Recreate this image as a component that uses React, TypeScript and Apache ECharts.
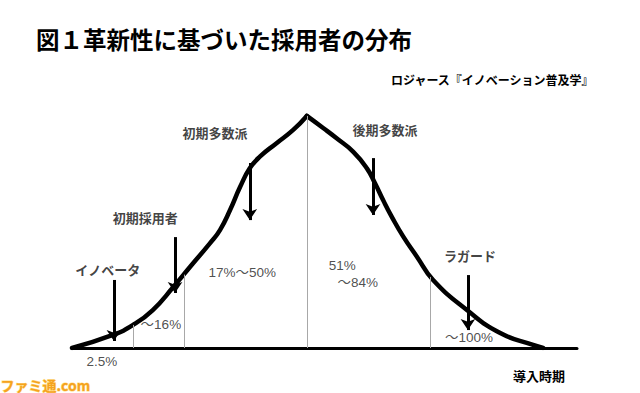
import React, { useEffect, useRef } from "react";
import * as echarts from "echarts";

// Bell curve of adopters (x: time of adoption, y: relative number of adopters)
// Rising side up to the peak
const riseX = [0, 8.1, 12.1, 16.0, 20.1, 23.4, 27.3, 29.3, 31.3, 33.3, 35.2, 37.2, 40.5, 43.8, 46.5];
const riseY = [0, 5.6, 9.9, 16.3, 26.3, 34.9, 44.9, 50.6, 59.2, 69.2, 77.1, 82.1, 87.9, 93.6, 99.6];
// Falling side from the peak
const fallX = [46.5, 49.8, 52.4, 55.7, 58.4, 60.0, 61.6, 63.3, 65.6, 68.3, 71.5, 78.2, 84.8, 91.3, 93.3];
const fallY = [99.6, 94.3, 90.0, 84.2, 77.1, 70.7, 63.5, 56.4, 47.8, 39.2, 29.2, 16.3, 6.4, 1.3, 0];

// Category boundaries (vertical grey lines)
const dividerX = [12.1, 22.2, 46.5, 71.0];
const dividerTop = [9.9, 31.5, 99.6, 30.5];

// Adopter categories with their arrows
const groupNames = ["イノベータ", "初期採用者", "初期多数派", "後期多数派", "ラガード"];
const arrowX = [8.3, 20.4, 35.2, 59.6, 78.4];
const arrowFrom = [29.2, 47.6, 79.4, 81.5, 31.3];
const arrowTo = [3.0, 23.6, 54.9, 57.1, 7.7];
const groupLabelX = [7.1, 14.5, 28.3, 62.0, 78.8];
const groupLabelY = [33.9, 56.2, 92.3, 93.6, 39.9];

// Cumulative share labels
const shareText = ["2.5%", "～16%", "17%～50%", "51%", "～84%", "～100%"];
const shareX = [5.9, 17.6, 33.7, 53.5, 56.6, 78.6];
const shareY = [-6.0, 9.9, 32.2, 35.6, 28.3, 4.3];

const titleText = "図１革新性に基づいた採用者の分布";
const sourceText = "ロジャース『イノベーション普及学』";
const axisText = "導入時期";
const watermarkText = "ファミ通.com";

const CJK = '"Noto Sans CJK JP", "Noto Sans", sans-serif';
const LATIN = '"Liberation Sans", Arial, "Noto Sans CJK JP", sans-serif';

export default function App() {
  const ref = useRef<HTMLDivElement>(null);

  useEffect(() => {
    if (!ref.current) return;
    const chart = echarts.init(ref.current, undefined, { renderer: "svg" });

    const riseData = riseX.map((x, i) => [x, riseY[i]]);
    const fallData = fallX.map((x, i) => [x, fallY[i]]);
    const dividerLines = dividerX.map((x, i) => [
      { coord: [x, 0] },
      { coord: [x, dividerTop[i]] },
    ]);
    const arrowLines = arrowX.map((x, i) => [
      { coord: [x, arrowFrom[i]] },
      { coord: [x, arrowTo[i]] },
    ]);
    const groupData = groupNames.map((n, i) => ({ name: n, value: [groupLabelX[i], groupLabelY[i]] }));
    const shareData = shareText.map((n, i) => ({ name: n, value: [shareX[i], shareY[i]] }));

    const curveStyle = { color: "#000", width: 4.5, cap: "round", join: "round" };

    chart.setOption({
      animation: false,
      backgroundColor: "#ffffff",
      grid: { left: 72, right: 63, top: 115, bottom: 45 },
      xAxis: {
        type: "value",
        min: 0,
        max: 100,
        axisLine: { show: true, lineStyle: { color: "#000", width: 3 } },
        axisTick: { show: false },
        axisLabel: { show: false },
        splitLine: { show: false },
      },
      yAxis: {
        type: "value",
        min: 0,
        max: 100,
        axisLine: { show: false },
        axisTick: { show: false },
        axisLabel: { show: false },
        splitLine: { show: false },
      },
      graphic: [
        {
          type: "text",
          left: 36,
          top: 27,
          style: { text: titleText, font: `bold 23.5px ${CJK}`, fill: "#000" },
        },
        {
          type: "text",
          right: 45,
          top: 73,
          style: { text: sourceText, font: `bold 12px ${CJK}`, fill: "#000" },
        },
        {
          type: "text",
          left: 513,
          top: 369,
          style: { text: axisText, font: `bold 13px ${CJK}`, fill: "#000" },
        },
        {
          type: "text",
          left: 0,
          top: 377,
          style: {
            text: watermarkText,
            font: `bold 14px ${CJK}`,
            fill: "#f5a31e",
            stroke: "#ffe08a",
            lineWidth: 1,
          },
        },
      ],
      series: [
        {
          type: "line",
          data: [],
          silent: true,
          z: 1,
          markLine: {
            silent: true,
            symbol: ["none", "none"],
            label: { show: false },
            lineStyle: { color: "#a8a8a8", width: 1, type: "solid" },
            data: dividerLines,
          },
        },
        {
          type: "line",
          data: riseData,
          smooth: 0.5,
          showSymbol: false,
          symbol: "none",
          z: 3,
          lineStyle: curveStyle,
        },
        {
          type: "line",
          data: fallData,
          smooth: 0.5,
          showSymbol: false,
          symbol: "none",
          z: 3,
          lineStyle: curveStyle,
        },
        {
          type: "line",
          data: [],
          silent: true,
          z: 4,
          markLine: {
            silent: true,
            symbol: ["none", "arrow"],
            symbolSize: 11,
            label: { show: false },
            lineStyle: { color: "#000", width: 3, type: "solid" },
            data: arrowLines,
          },
        },
        {
          type: "scatter",
          data: groupData,
          symbolSize: 0,
          clip: false,
          silent: true,
          label: {
            show: true,
            position: "inside",
            formatter: "{b}",
            fontFamily: CJK,
            fontWeight: "bold",
            fontSize: 13,
            color: "#111",
          },
        },
        {
          type: "scatter",
          data: shareData,
          symbolSize: 0,
          clip: false,
          silent: true,
          label: {
            show: true,
            position: "inside",
            formatter: "{b}",
            fontFamily: LATIN,
            fontSize: 13.5,
            color: "#222",
          },
        },
      ],
    });

    return () => chart.dispose();
  }, []);

  return (
    <div
      ref={ref}
      style={{ position: "fixed", left: 0, top: 0, width: 640, height: 393, background: "#fff" }}
    />
  );
}
